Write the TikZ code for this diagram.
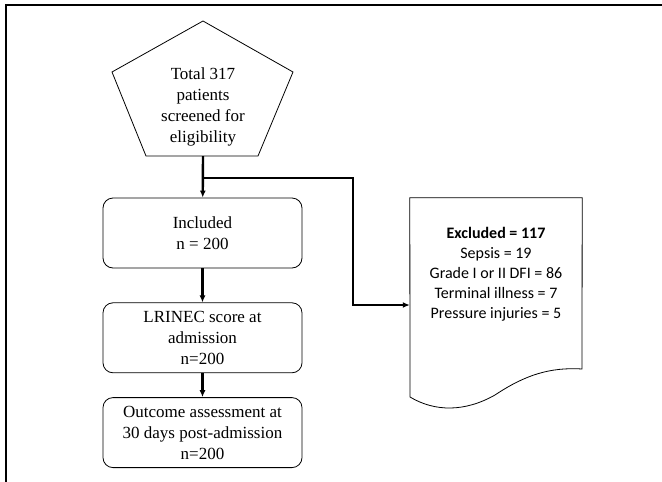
\documentclass[tikz,border=0pt]{standalone}
\usepackage{fontspec}
\setmainfont{Liberation Serif}
\newfontfamily\exfont{Carlito}
\usetikzlibrary{arrows.meta, positioning}

\begin{document}
\begin{tikzpicture}[x=1pt, y=-1pt, >={Latex[length=7pt,width=6pt]}, font=\fontsize{17}{21}\selectfont,
  stage/.style={draw, rounded corners=10pt, line width=0.8pt, minimum width=199pt, minimum height=70pt, align=center, inner sep=0pt},
  flow/.style={->, line width=2.4pt}]

\useasboundingbox (0,0) rectangle (662,482);
\draw[line width=1.8pt] (6,482) -- (6,5) -- (662,5);

% screening
\draw[line width=0.8pt] (203,21) -- (293,72) -- (258,156) -- (146,156) -- (112,72) -- cycle;
\node[minimum height=99pt, inner sep=0pt, align=center] (scr) at (203,106.5) {Total 317\\patients\\screened for\\eligibility};

\node[stage] (inc) at (202.5,233) {Included\\n = 200};
\node[stage, below=34pt of inc] (lri) {LRINEC score at\\admission\\n=200};
\node[stage, below=24pt of lri] (out) {Outcome assessment at\\30 days post-admission\\n=200};

% excluded
\node[minimum width=172pt, minimum height=153pt, inner sep=0pt, align=center, font=\exfont\fontsize{16}{20}\selectfont] (exc) at (496,274.5) {\textbf{Excluded = 117}\\Sepsis = 19\\Grade I or II DFI = 86\\Terminal illness = 7\\Pressure injuries = 5};
\draw[line width=0.8pt] (exc.north west) -- (exc.north east) -- (582,369) .. controls (550,367) and (525,375) .. (495,395) .. controls (465,412) and (435,412) .. (410,397) -- cycle;

\coordinate (brk) at (203,178);
\coordinate (turn) at (353,305);
\draw[flow] (scr.south) -- (inc);
\draw[flow] (inc) -- (lri);
\draw[flow] (lri) -- (out);
\draw[flow] (brk) -| (turn) -- (turn -| exc.west);

\end{tikzpicture}
\end{document}
